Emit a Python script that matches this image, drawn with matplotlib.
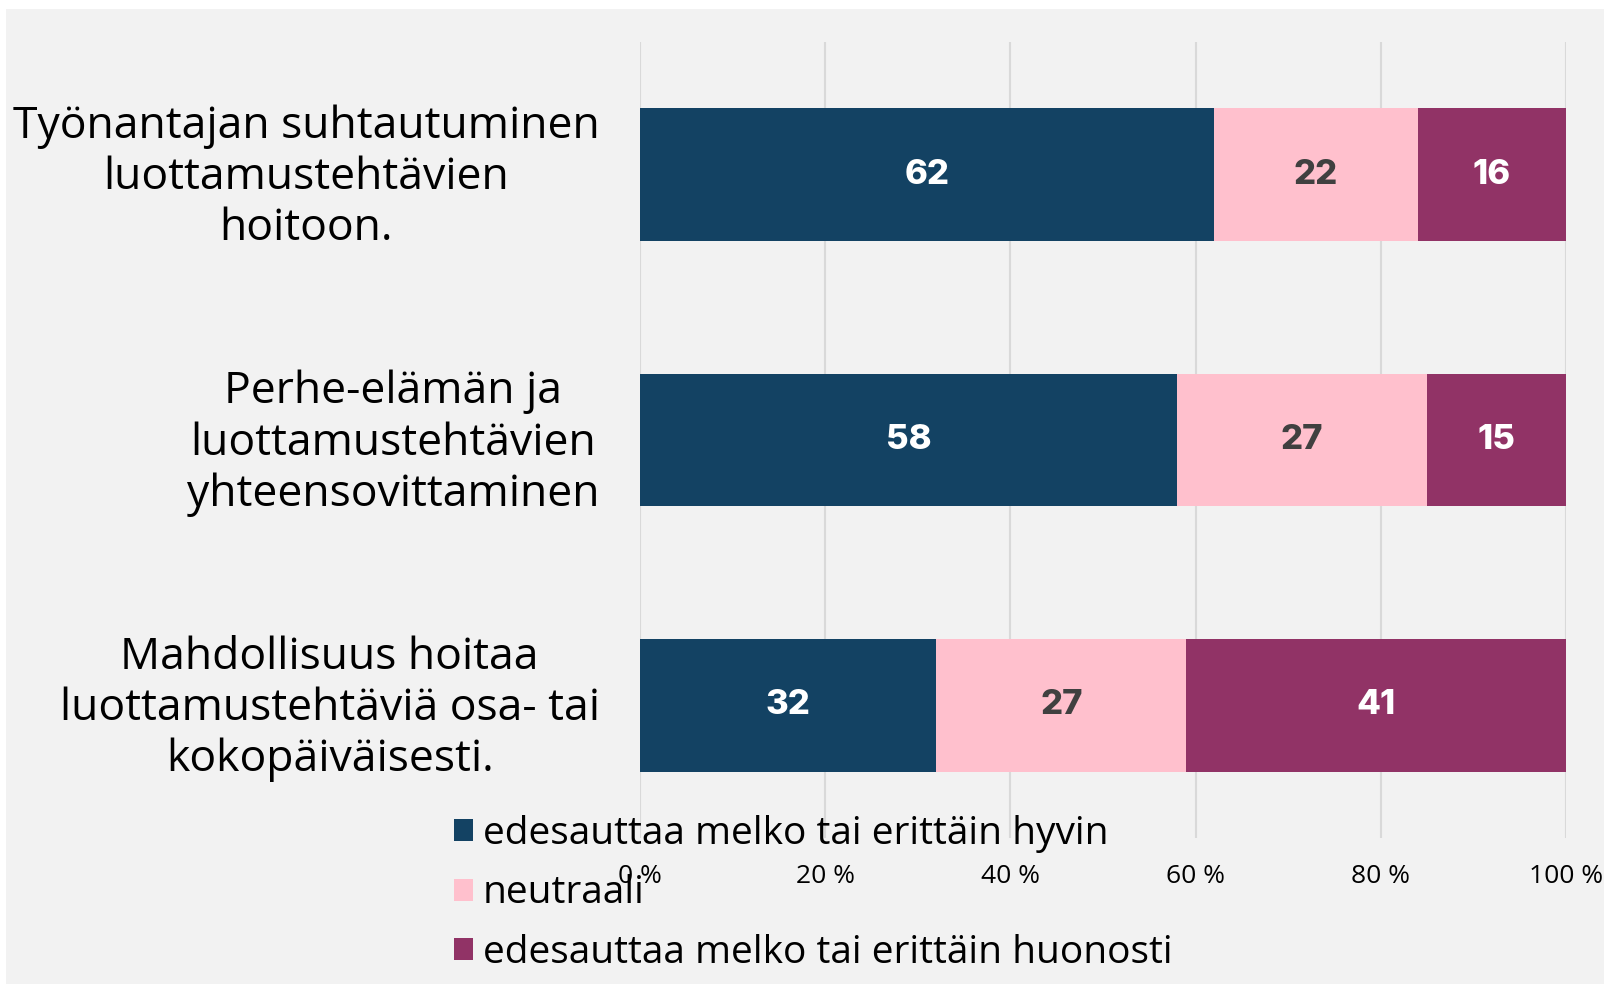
import matplotlib
matplotlib.use("Agg")
import matplotlib.pyplot as plt
import matplotlib.transforms as mtransforms
from matplotlib.patches import Rectangle

# data
categories = [
    "Työnantajan suhtautuminen\nluottamustehtävien\nhoitoon.",
    "Perhe-elämän ja\nluottamustehtävien\nyhteensovittaminen",
    "Mahdollisuus hoitaa\nluottamustehtäviä osa- tai\nkokopäiväisesti.",
]
hyvin = [62, 58, 32]
neutraali = [22, 27, 27]
huonosti = [16, 15, 41]
series_names = [
    "edesauttaa melko tai erittäin hyvin",
    "neutraali",
    "edesauttaa melko tai erittäin huonosti",
]
tick_values = [0, 20, 40, 60, 80, 100]

colors = ["#134263", "#FFC0CD", "#913366"]
label_colors = ["white", "#404040", "white"]

plt.rcParams["font.family"] = ["Open Sans", "DejaVu Sans"]

fig = plt.figure(figsize=(16.04, 9.84), dpi=100)
fig.patch.set_facecolor("white")
# gray panel behind the chart
fig.patches.append(Rectangle((6 / 1604, 0), 1 - 6 / 1604, 1 - 9 / 984,
                             transform=fig.transFigure, facecolor="#F2F2F2",
                             edgecolor="none", zorder=-10))

ax = fig.add_axes([640 / 1604, 1 - 838 / 984, 926 / 1604, 796 / 984])
ax.set_facecolor("none")

y = list(range(len(categories)))
left = [0] * len(categories)
for vals, name, col, lc in zip([hyvin, neutraali, huonosti], series_names, colors, label_colors):
    bars = ax.barh(y, vals, left=left, height=0.5, color=col, label=name, zorder=3)
    ax.bar_label(bars, labels=[str(v) for v in vals], label_type="center",
                 color=lc, fontsize=25, fontweight="heavy", family=["Inter", "DejaVu Sans"])
    left = [a + b for a, b in zip(left, vals)]

ax.set_xlim(0, 100)
ax.set_ylim(2.5, -0.5)
ax.set_xticks(tick_values)
ax.set_xticklabels([f"{t} %" for t in tick_values], fontsize=19)
ax.set_yticks(y)
ax.set_yticklabels(categories, fontsize=32, ha="right", multialignment="center")
ax.tick_params(axis="both", length=0)
ax.tick_params(axis="x", pad=19)
ax.tick_params(axis="y", pad=29)
# nudge category labels up a little so the middle line sits on the bar centre
shift = mtransforms.ScaledTranslation(0, 4 / 72, fig.dpi_scale_trans)
for lbl in ax.get_yticklabels():
    lbl.set_transform(lbl.get_transform() + shift)
ax.grid(axis="x", color="#D9D9D9", linewidth=1.5, zorder=0)
ax.set_axisbelow(True)
for s in ax.spines.values():
    s.set_visible(False)

fig.legend(loc="upper left", bbox_to_anchor=(454 / 1604, 1 - 815 / 984),
           frameon=False, fontsize=28, handlelength=0.5, handleheight=0.5,
           handletextpad=0.24, labelspacing=0.55, borderpad=0, borderaxespad=0)

fig.savefig("out.png", dpi=100)
